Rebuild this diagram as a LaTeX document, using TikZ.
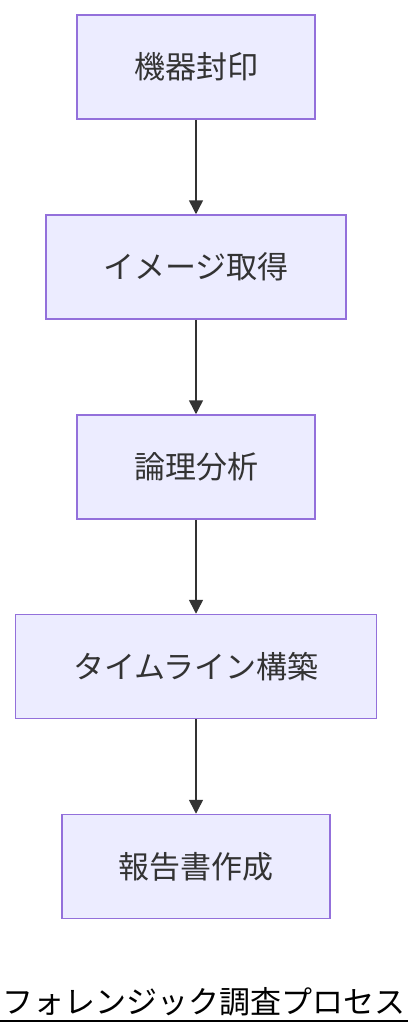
\documentclass[tikz,border=0pt]{standalone}
\usepackage{fontspec}
\newfontfamily\cjk{Noto Sans CJK JP}
\usetikzlibrary{arrows.meta}
\definecolor{boxfill}{HTML}{ECECFF}
\definecolor{boxline}{HTML}{9370DB}
\definecolor{ink}{HTML}{333333}
\tikzset{
  stepbox/.style={draw=boxline, fill=boxfill, line width=1.5pt, minimum height=104pt,
    text=ink, font=\cjk\fontsize{31}{36}\selectfont, inner sep=0pt},
  flow/.style={draw=ink, line width=1.5pt, -{Triangle[length=14pt,width=14pt]}}
}
\begin{document}
\begin{tikzpicture}[x=1pt,y=-1pt]
\useasboundingbox (0,0) rectangle (408,1036);
\node[stepbox, minimum width=238pt] (a) at (196,67) {機器封印};
\node[stepbox, minimum width=300pt] (b) at (196,267) {イメージ取得};
\node[stepbox, minimum width=238pt] (c) at (196,467) {論理分析};
\node[stepbox, minimum width=361pt] (d) at (196,666.5) {タイムライン構築};
\node[stepbox, minimum width=268pt] (e) at (196,866.5) {報告書作成};
\draw[flow] (a) -- (b);
\draw[flow] (b) -- (c);
\draw[flow] (c) -- (d);
\draw[flow] (d) -- (e);
\node[font=\cjk\fontsize{31}{36}\selectfont, text=black, inner sep=0pt, anchor=base] (t) at (204,1013) {フォレンジック調査プロセス};
\coordinate (ul) at (0,1021);
\coordinate (ur) at (408,1021);
\draw[line width=2pt, black] (ul) -- (ur);
\end{tikzpicture}
\end{document}
